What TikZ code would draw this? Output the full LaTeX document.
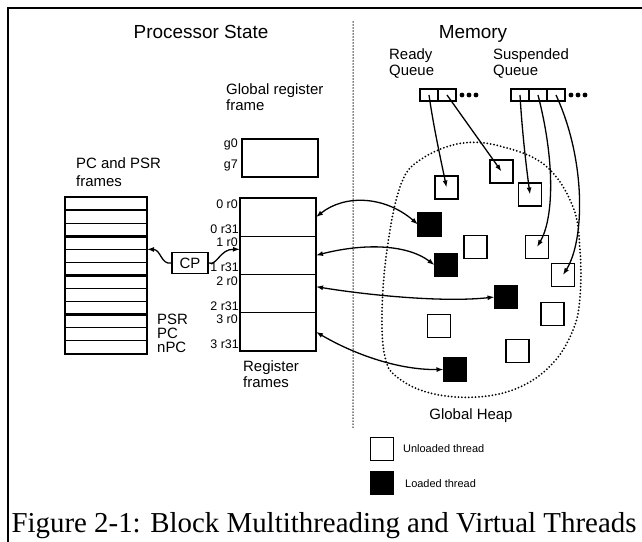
\documentclass[tikz,border=0pt]{standalone}
\usepackage{fontspec}
\setmainfont{Liberation Sans}
\newfontfamily\captionfont{Liberation Serif}
\usetikzlibrary{arrows.meta,calc}

\tikzset{
    headlbl/.style={font=\fontsize{19}{21}\selectfont, anchor=base, inner sep=0},
    boxlbl/.style={font=\fontsize{15}{16}\selectfont, align=left, anchor=base west, inner sep=0},
    reglbl/.style={font=\fontsize{12.5}{13}\selectfont, anchor=base east, inner sep=0},
    legendlbl/.style={font=\fontsize{11}{12}\selectfont, anchor=west, inner sep=0},
    pcrow/.style={draw, line width=1.2bp, minimum width=82bp, minimum height=13.08bp, anchor=north west, inner sep=0, outer sep=0},
    regframe/.style={draw, line width=1.2bp, minimum width=76bp, minimum height=38.25bp, anchor=north west, inner sep=0, outer sep=0},
    thread/.style={draw, line width=1.6bp, minimum size=23bp, inner sep=0, outer sep=0},
    loaded/.style={thread, fill=black},
    qcell/.style={draw, line width=1.4bp, minimum width=18bp, minimum height=12bp, inner sep=0, outer sep=0},
    link/.style={line width=1.3bp, -{Latex[length=7bp,width=5bp]}},
    twoway/.style={line width=1.3bp, {Latex[length=7bp,width=5bp]}-{Latex[length=7bp,width=5bp]}},
    dotline/.style={line width=2bp, dash pattern=on 0bp off 3.4bp, line cap=round},
}

\begin{document}
\begin{tikzpicture}[x=1bp, y=-1bp]
\useasboundingbox (0,0) rectangle (642,542);

% Frame and divider
\draw[line width=1.8bp] (8,542) -- (8,8) -- (642,8);
\draw[dotline, line width=1.5bp, dash pattern=on 0bp off 3bp] (353,22) -- (353,430);

% Headings
\node[headlbl] (procstate) at (201,39) {Processor State};
\node[headlbl] (memory) at (473,39) {Memory};

% Global register frame (base = last line)
\node[boxlbl] (globlbl) at (226,110.5) {Global register\\frame};
\node[draw, line width=1.6bp, minimum width=76bp, minimum height=38bp, anchor=north west, inner sep=0] (glob) at (241,138) {};
\node[reglbl] (g0) at (238,147.5) {g0};
\node[reglbl] (g7) at (238,169) {g7};

% PC and PSR frames
\node[boxlbl] (pclbl) at (76,186.5) {PC and PSR\\[2bp]frames};
\foreach \i in {0,...,11}
    \node[pcrow] (pcrow\i) at (65,{197+13.08*\i}) {};
\draw[line width=2bp] (pcrow0.north west) rectangle (pcrow11.south east);
\foreach \i in {2,5,8}
    \draw[line width=3.2bp] (pcrow\i.south west) -- (pcrow\i.south east);
\node[boxlbl, font=\fontsize{15}{14}\selectfont] (psrlbl) at (157,352.5) {PSR\\PC\\nPC};

% Register frames
\foreach \i in {0,...,3} {
    \node[regframe] (rf\i) at (240,{198+38.25*\i}) {};
    \node[reglbl] (rtop\i) at (238,{208.6+38.25*\i}) {\i{} r0};
    \node[reglbl] (rbot\i) at (239,{233.6+38.25*\i}) {\i{} r31};
}
\draw[line width=2bp] (rf0.north west) rectangle (rf3.south east);
\node[boxlbl] (rflbl) at (243,387.5) {Register\\frames};

% Context pointer
\node[draw, line width=1.5bp, minimum width=36bp, minimum height=21bp, inner sep=0, font=\fontsize{15}{16}\selectfont] (cp) at (190,263) {CP};
\draw[link] (cp.west) .. controls (161,265) and (161,249.6) .. (pcrow3.south east);
\draw[link] (cp.east) .. controls (217,266) and (220,249) .. ([yshift=6bp]rf1.west);

% Global heap
\draw[dotline] plot[smooth cycle, tension=0.65] coordinates {(463,143) (507,148) (547,167) (573,207) (580,250) (580,297) (573,330) (553,363) (520,387) (477,397) (430,393) (397,377) (385,357) (382,313) (387,250) (400,187) (420,160)};
\node[headlbl, font=\fontsize{15}{16}\selectfont] (heaplbl) at (471,419.5) {Global Heap};

% Threads
\node[thread] (wa) at (446.5,187.5) {};
\node[thread] (wb) at (501.5,171.5) {};
\node[thread] (wc) at (530,194.5) {};
\node[thread] (wd) at (537,247) {};
\node[thread] (we) at (563,275) {};
\node[thread] (wf) at (475.5,247) {};
\node[thread] (wg) at (552.5,314) {};
\node[thread] (wh) at (439,326) {};
\node[thread] (wi) at (517.5,351) {};
\node[loaded] (th1) at (429.5,224.5) {};
\node[loaded] (th2) at (446,265) {};
\node[loaded] (th3) at (506,297) {};
\node[loaded] (th4) at (455,369.5) {};

% Queues
\node[boxlbl] (rqlbl) at (389,75.5) {Ready\\Queue};
\node[boxlbl] (sqlbl) at (493,75.5) {Suspended\\Queue};
\node[qcell] (rq1) at (429,95) {};
\node[qcell] (rq2) at (447,95) {};
\node[qcell] (sq1) at (520,95) {};
\node[qcell] (sq2) at (538,95) {};
\node[qcell] (sq3) at (556,95) {};
\foreach \k in {1,2,3} {
    \fill ($(rq2.east)+(\k*7-1,0)$) circle (2.4);
    \fill ($(sq3.east)+(\k*7-1,0)$) circle (2.4);
}

% Connections
\draw[link] (rq1.center) .. controls (434,130) and (442,165) .. (wa.center);
\draw[link] (rq2.center) -- (wb.center);
\draw[link] (sq1.center) .. controls (522,130) and (526,165) .. (wc.center);
\draw[link] (sq2.center) .. controls (556,165) and (553,220) .. (wd.center);
\draw[link] (sq3.center) .. controls (586,160) and (585,240) .. (we.center);

\draw[twoway] (rf0.east) .. controls (345,194) and (385,196) .. (th1.west);
\draw[twoway] (rf1.east) .. controls (360,244) and (405,243) .. (th2.west);
\draw[twoway] ([yshift=7bp]rf2.east) .. controls (360,294) and (440,303) .. (th3.west);
\draw[twoway] (rf3.east) .. controls (350,352) and (395,370) .. (th4.west);

% Legend
\node[thread] (legu) at (382,449) {};
\node[legendlbl] (legulbl) at (403,449) {Unloaded thread};
\node[loaded] (legl) at (382,483) {};
\node[legendlbl] (legllbl) at (405,484) {Loaded thread};

% Caption
\node[anchor=base, inner sep=0, font=\captionfont\fontsize{29}{31}\selectfont] (caption) at (324,532) {Figure 2-1: Block Multithreading and Virtual Threads};
\end{tikzpicture}
\end{document}
